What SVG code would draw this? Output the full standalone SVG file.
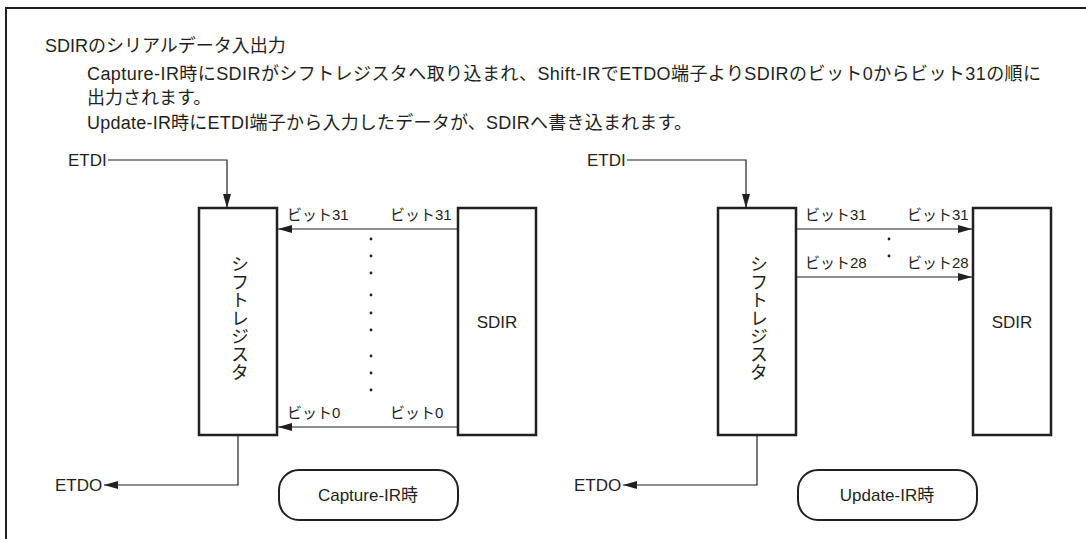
<svg xmlns="http://www.w3.org/2000/svg" width="1086" height="539" viewBox="0 0 1086 539">
<style>
text{font-family:"Liberation Sans","Noto Sans CJK JP",sans-serif;fill:#231f20}
.h{font-size:18px}
.t{font-size:17px}
.b{font-size:15px}
.v{font-size:18px;writing-mode:tb;text-anchor:middle}
.box{fill:#fff;stroke:#231f20;stroke-width:2.5}
.rbox{fill:#fff;stroke:#231f20;stroke-width:2}
.ln{fill:none;stroke:#231f20;stroke-width:1.2}
.dot{fill:#231f20}
</style>
<defs>
<marker id="ah" viewBox="0 0 14 8" refX="14" refY="4" markerWidth="14" markerHeight="8" markerUnits="userSpaceOnUse" orient="auto">
<path d="M0,0 L14,4 L0,8 Z" fill="#231f20"/>
</marker>
</defs>
<rect width="1086" height="539" fill="#fff"/>
<path d="M6,539 V8 H1086" fill="none" stroke="#231f20" stroke-width="2"/>
<g id="header">
<text class="h" x="45" y="52">SDIRのシリアルデータ入出力</text>
<text class="h" x="87" y="80" textLength="954" lengthAdjust="spacing">Capture-IR時にSDIRがシフトレジスタへ取り込まれ、Shift-IRでETDO端子よりSDIRのビット0からビット31の順に</text>
<text class="h" x="87" y="104">出力されます。</text>
<text class="h" x="87" y="129" textLength="605" lengthAdjust="spacing">Update-IR時にETDI端子から入力したデータが、SDIRへ書き込まれます。</text>
</g>
<g id="connectors">
<path class="ln" d="M108,160 H227 V208" marker-end="url(#ah)"/>
<path class="ln" d="M238,435 V485 H104" marker-end="url(#ah)"/>
<path class="ln" d="M458,229 H278" marker-end="url(#ah)"/>
<path class="ln" d="M458,427 H278" marker-end="url(#ah)"/>
<path class="ln" d="M627,160 H746 V208" marker-end="url(#ah)"/>
<path class="ln" d="M757,435 V485 H623" marker-end="url(#ah)"/>
<path class="ln" d="M796,229 H972" marker-end="url(#ah)"/>
<path class="ln" d="M796,277 H972" marker-end="url(#ah)"/>
</g>
<g id="capture-labels">
<text class="t" x="68" y="166">ETDI</text>
<text class="t" x="55" y="491">ETDO</text>
<text class="b" x="287" y="220">ビット31</text>
<text class="b" x="390" y="220">ビット31</text>
<text class="b" x="287" y="418">ビット0</text>
<text class="b" x="390" y="418">ビット0</text>
<g class="dot">
<circle cx="371" cy="239" r="1.4"/><circle cx="371" cy="256" r="1.4"/><circle cx="371" cy="273" r="1.4"/>
<circle cx="371" cy="295" r="1.4"/><circle cx="371" cy="313" r="1.4"/><circle cx="371" cy="330" r="1.4"/>
<circle cx="371" cy="356" r="1.4"/><circle cx="371" cy="373" r="1.4"/><circle cx="371" cy="390" r="1.4"/>
</g>
</g>
<g id="shift-left">
<rect class="box" x="199" y="208" width="78" height="227"/>
<text class="v" x="238" y="318">シフトレジスタ</text>
</g>
<g id="sdir-left">
<rect class="box" x="458" y="208" width="78" height="227"/>
<text class="t" x="497" y="328" text-anchor="middle">SDIR</text>
</g>
<g id="capture-tag">
<rect class="rbox" x="279" y="470" width="179" height="50" rx="20"/>
<text class="t" x="368" y="501" text-anchor="middle">Capture-IR時</text>
</g>
<g id="update-labels">
<text class="t" x="587" y="166">ETDI</text>
<text class="t" x="574" y="491">ETDO</text>
<text class="b" x="805" y="220">ビット31</text>
<text class="b" x="907" y="220">ビット31</text>
<text class="b" x="805" y="268">ビット28</text>
<text class="b" x="907" y="268">ビット28</text>
<g class="dot">
<circle cx="889" cy="239" r="1.4"/><circle cx="889" cy="256" r="1.4"/>
</g>
</g>
<g id="shift-right">
<rect class="box" x="718" y="208" width="78" height="227"/>
<text class="v" x="757" y="318">シフトレジスタ</text>
</g>
<g id="sdir-right">
<rect class="box" x="973" y="208" width="78" height="227"/>
<text class="t" x="1012" y="328" text-anchor="middle">SDIR</text>
</g>
<g id="update-tag">
<rect class="rbox" x="798" y="470" width="179" height="50" rx="20"/>
<text class="t" x="887" y="501" text-anchor="middle">Update-IR時</text>
</g>
</svg>
